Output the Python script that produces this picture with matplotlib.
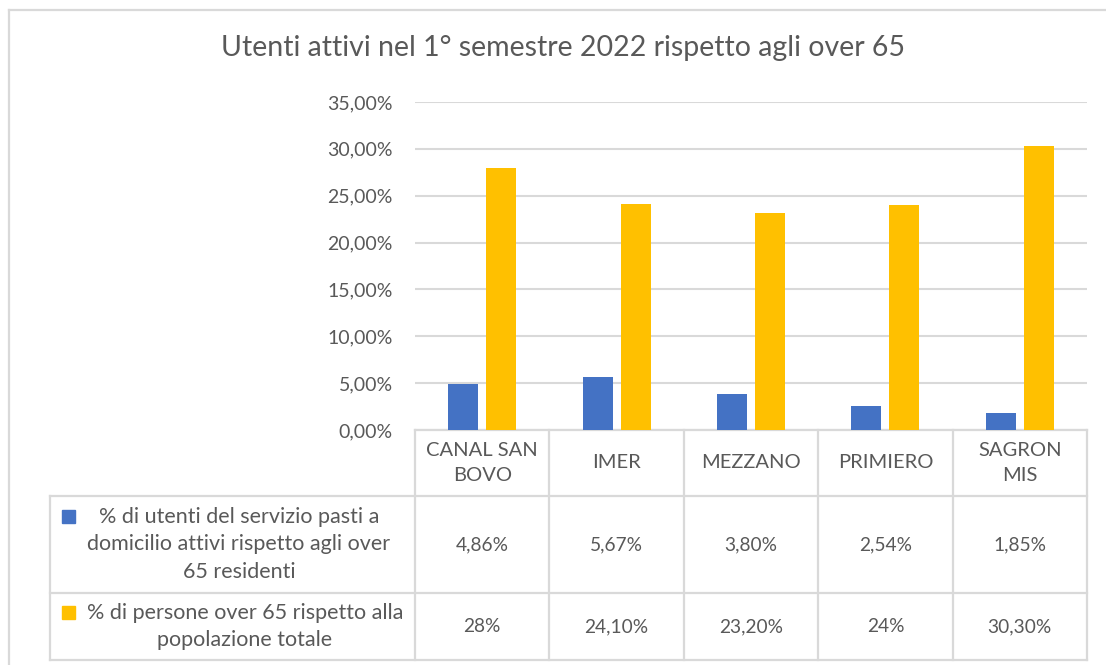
import matplotlib.pyplot as plt
import numpy as np
from matplotlib.ticker import FuncFormatter

plt.rcParams["font.family"] = ["Lato", "DejaVu Sans"]

categories = ["CANAL SAN\nBOVO", "IMER", "MEZZANO", "PRIMIERO", "SAGRON\nMIS"]
utenti_pasti = [0.0486, 0.0567, 0.0380, 0.0254, 0.0185]
over65 = [0.28, 0.241, 0.232, 0.24, 0.303]
utenti_labels = ["4,86%", "5,67%", "3,80%", "2,54%", "1,85%"]
over65_labels = ["28%", "24,10%", "23,20%", "24%", "30,30%"]
series_names = [
    "% di utenti del servizio pasti a\ndomicilio attivi rispetto agli over\n65 residenti",
    "% di persone over 65 rispetto alla\npopolazione totale",
]
title = "Utenti attivi nel 1° semestre 2022 rispetto agli over 65"

BLUE = "#4472C4"
GOLD = "#FFC000"
TEXT = "#595959"
LINE = "#D9D9D9"

W, H = 1106, 665
fig = plt.figure(figsize=(W / 100, H / 100), dpi=100)

# pixel-space overlay for the border and data table
ov = fig.add_axes([0, 0, 1, 1], zorder=0)
ov.set_xlim(0, W)
ov.set_ylim(H, 0)
ov.axis("off")

# plot area
x0, x1, ytop, ybot = 415, 1087, 102, 430
ax = fig.add_axes([x0 / W, 1 - ybot / H, (x1 - x0) / W, (ybot - ytop) / H], zorder=1)
ax.patch.set_alpha(0)
x = np.arange(len(categories))
bw, off = 0.223, 0.141
ax.bar(x - off, utenti_pasti, bw, color=BLUE, zorder=3)
ax.bar(x + off, over65, bw, color=GOLD, zorder=3)
ax.set_xlim(-0.5, len(categories) - 0.5)
ax.set_ylim(0, 0.35)
ax.set_yticks(np.arange(0, 0.351, 0.05))
ax.yaxis.set_major_formatter(FuncFormatter(lambda v, _: f"{v * 100:.2f}%".replace(".", ",")))
ax.tick_params(axis="y", length=0, pad=16, labelsize=14, labelcolor=TEXT)
ax.set_xticks([])
ax.grid(axis="y", color=LINE, lw=1.5, zorder=0)
for s in ax.spines.values():
    s.set_visible(False)

fig.text(0.509, 1 - 48 / H, title, ha="center", va="center", fontsize=20.5, color=TEXT)

# chart border (top and left visible)
ov.plot([8.5, W], [9.5, 9.5], color=LINE, lw=1.6)
ov.plot([8.5, 8.5], [9.5, H], color=LINE, lw=1.6)

# data table
col_w = (x1 - x0) / len(categories)
cols = [x0 + i * col_w for i in range(len(categories) + 1)]
r_head, r1, r2, r_end = 430, 496, 593, 660
tl = 50
kw = dict(color=LINE, lw=1.6)
ov.plot([x0, x1], [r_head, r_head], **kw)
for y in (r1, r2, r_end):
    ov.plot([tl, x1], [y, y], **kw)
ov.plot([tl, tl], [r1, r_end], **kw)
for cx in cols:
    ov.plot([cx, cx], [r_head, r_end], **kw)

for i, cat in enumerate(categories):
    cx = (cols[i] + cols[i + 1]) / 2
    ov.text(cx, (r_head + r1) / 2, cat, ha="center", va="center", fontsize=14.5,
            color=TEXT, linespacing=1.6)
    ov.text(cx, (r1 + r2) / 2, utenti_labels[i], ha="center", va="center", fontsize=13.8, color=TEXT)
    ov.text(cx, (r2 + r_end) / 2, over65_labels[i], ha="center", va="center", fontsize=13.8, color=TEXT)

rows = [(r1, r2, BLUE, 239), (r2, r_end, GOLD, 245)]
for (ra, rb, col, tx), name in zip(rows, series_names):
    nlines = name.count("\n") + 1
    ov.text(tx, (ra + rb) / 2, name, ha="center", va="center", fontsize=15.5,
            color=TEXT, linespacing=1.45)
    first = (ra + rb) / 2 - (nlines - 1) * 14
    ov.add_patch(plt.Rectangle((62, first - 7), 13, 13, color=col))

fig.savefig("out.png", dpi=100)
